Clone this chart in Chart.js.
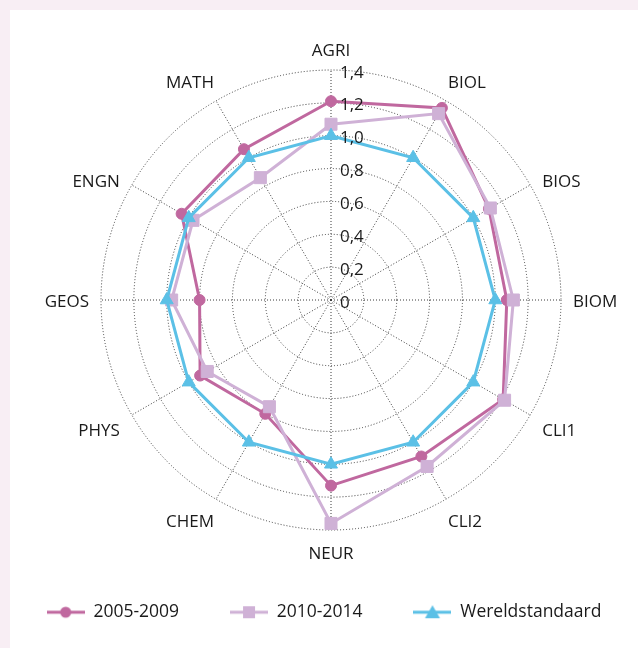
<!DOCTYPE html>
<html>
<head>
<meta charset="utf-8">
<script src="https://cdn.jsdelivr.net/npm/chart.js@4/dist/chart.umd.min.js"></script>
<style>
  html, body { margin: 0; padding: 0; background: #f8eef4; }
  #panel { position: absolute; left: 10px; top: 10px; width: 628px; height: 638px; background: #ffffff; }
  canvas { display: block; }
</style>
</head>
<body>
<div id="panel"><canvas id="radar" width="628" height="638"></canvas></div>
<script>
// categorieën, van boven met de klok mee
const categories = ['AGRI', 'BIOL', 'BIOS', 'BIOM', 'CLI1', 'CLI2', 'NEUR', 'CHEM', 'PHYS', 'GEOS', 'ENGN', 'MATH'];
const serie0509 = [1.21, 1.35, 1.11, 1.07, 1.21, 1.10, 1.13, 0.80, 0.92, 0.80, 1.05, 1.06];
const serie1014 = [1.07, 1.31, 1.12, 1.11, 1.22, 1.17, 1.36, 0.75, 0.87, 0.97, 0.97, 0.86];
const wereld = [1.0, 1.0, 1.0, 1.0, 1.0, 1.0, 1.0, 1.0, 1.0, 1.0, 1.0, 1.0];
const tickValues = [0, 0.2, 0.4, 0.6, 0.8, 1.0, 1.2, 1.4];
const tickLabels = ['0', '0,2', '0,4', '0,6', '0,8', '1,0', '1,2', '1,4'];
const seriesNames = ['2005-2009', '2010-2014', 'Wereldstandaard'];

const kleuren = ['#c0689f', '#cfb1d6', '#5bc0e6'];
const FONT = '"Open Sans", "DejaVu Sans", sans-serif';
const CX = 321, CY = 290, R = 230; // middelpunt en straal (canvas-coördinaten)
const CAP = 17 * 0.714;

// legenda-icoon: lijn met marker erop
const maakIcoon = (kleur, vorm) => {
    const c = document.createElement('canvas');
    c.width = 38; c.height = 16;
    const g = c.getContext('2d');
    g.strokeStyle = kleur; g.fillStyle = kleur; g.lineWidth = 3;
    g.beginPath(); g.moveTo(0, 8); g.lineTo(38, 8); g.stroke();
    g.beginPath();
    if (vorm === 'circle') {
        g.arc(19, 8, 5.5, 0, Math.PI * 2);
    } else if (vorm === 'rect') {
        g.rect(13, 2, 12, 12);
    } else {
        g.moveTo(19, 1); g.lineTo(26.5, 14); g.lineTo(11.5, 14); g.closePath();
    }
    g.fill();
    return c;
};
const iconen = [maakIcoon(kleuren[0], 'circle'), maakIcoon(kleuren[1], 'rect'), maakIcoon(kleuren[2], 'triangle')];

// plaats van een categorienaam t.o.v. het eind van de aslijn (zoals Excel het doet)
const labelOffset = (sin, cos, w) => {
    if (Math.abs(sin) < 0.1) {
        return { dx: 0, dy: cos > 0 ? -(14 + CAP / 2) : (17 + CAP / 2) };
    }
    const kant = Math.sign(sin);
    if (Math.abs(cos) > 0.8) {
        return { dx: kant * (2 + w / 2), dy: cos > 0 ? -(13 + CAP / 2) : (16 + CAP / 2) };
    }
    return { dx: kant * (12 + w / 2), dy: cos > 0.1 ? -4 : (cos < -0.1 ? 15 : 1) };
};

// as-teksten en categorienamen zelf tekenen
const tekstPlugin = {
    id: 'tekstPlugin',
    afterDatasetsDraw(chart) {
        const scale = chart.scales.r;
        const ctx = chart.ctx;
        ctx.save();
        ctx.fillStyle = '#1a1a1a';
        ctx.font = '17px ' + FONT;
        ctx.textBaseline = 'alphabetic';
        ctx.textAlign = 'left';
        tickValues.forEach((v, i) => {
            const d = scale.getDistanceFromCenterForValue(v);
            ctx.fillText(tickLabels[i], scale.xCenter + 9, scale.yCenter - d + 1.5 + CAP / 2);
        });
        ctx.textAlign = 'center';
        categories.forEach((lab, i) => {
            const hoek = scale.getIndexAngle(i);
            const w = ctx.measureText(lab).width;
            const eind = scale.getPointPosition(i, scale.drawingArea);
            const o = labelOffset(Math.sin(hoek), Math.cos(hoek), w);
            ctx.fillText(lab, eind.x + o.dx, eind.y + o.dy + CAP / 2);
        });
        ctx.restore();
    }
};

const reeks = (i, data, vorm, straal, volgorde) => ({
    label: seriesNames[i],
    data: data,
    borderColor: kleuren[i],
    backgroundColor: kleuren[i],
    borderWidth: 3,
    fill: false,
    tension: 0,
    pointStyle: vorm,
    pointRadius: straal,
    pointBackgroundColor: kleuren[i],
    pointBorderColor: kleuren[i],
    pointBorderWidth: 1,
    order: volgorde,
    clip: false
});

new Chart(document.getElementById('radar'), {
    type: 'radar',
    data: {
        labels: categories,
        datasets: [
            reeks(0, serie0509, 'circle', 5.5, 3),
            reeks(1, serie1014, 'rect', 8.5, 2),
            reeks(2, wereld, 'triangle', 7.5, 1)
        ]
    },
    options: {
        responsive: false,
        animation: false,
        layout: { padding: { left: -20, right: -20, top: 0, bottom: 17 } },
        scales: {
            r: {
                min: 0,
                max: 1.4,
                ticks: { stepSize: 0.2, display: false },
                pointLabels: { display: false },
                grid: { circular: true, color: '#3a3a3a', lineWidth: 1 },
                border: { dash: [1, 2] },
                angleLines: { color: '#3a3a3a', lineWidth: 1, borderDash: [1, 2] },
                afterFit(scale) {
                    scale.xCenter = CX;
                    scale.yCenter = CY;
                    scale.drawingArea = R;
                }
            }
        },
        plugins: {
            tooltip: { enabled: false },
            legend: {
                position: 'bottom',
                align: 'center',
                labels: {
                    usePointStyle: true,
                    pointStyleWidth: 38,
                    padding: 51,
                    color: '#1a1a1a',
                    font: { family: FONT, size: 17.5 },
                    generateLabels: (chart) => chart.data.datasets.map((ds, i) => ({
                        text: ds.label,
                        pointStyle: iconen[i],
                        fillStyle: ds.borderColor,
                        strokeStyle: ds.borderColor,
                        fontColor: '#1a1a1a',
                        lineWidth: 0,
                        hidden: false,
                        datasetIndex: i
                    }))
                }
            }
        }
    },
    plugins: [tekstPlugin]
});
</script>
</body>
</html>
